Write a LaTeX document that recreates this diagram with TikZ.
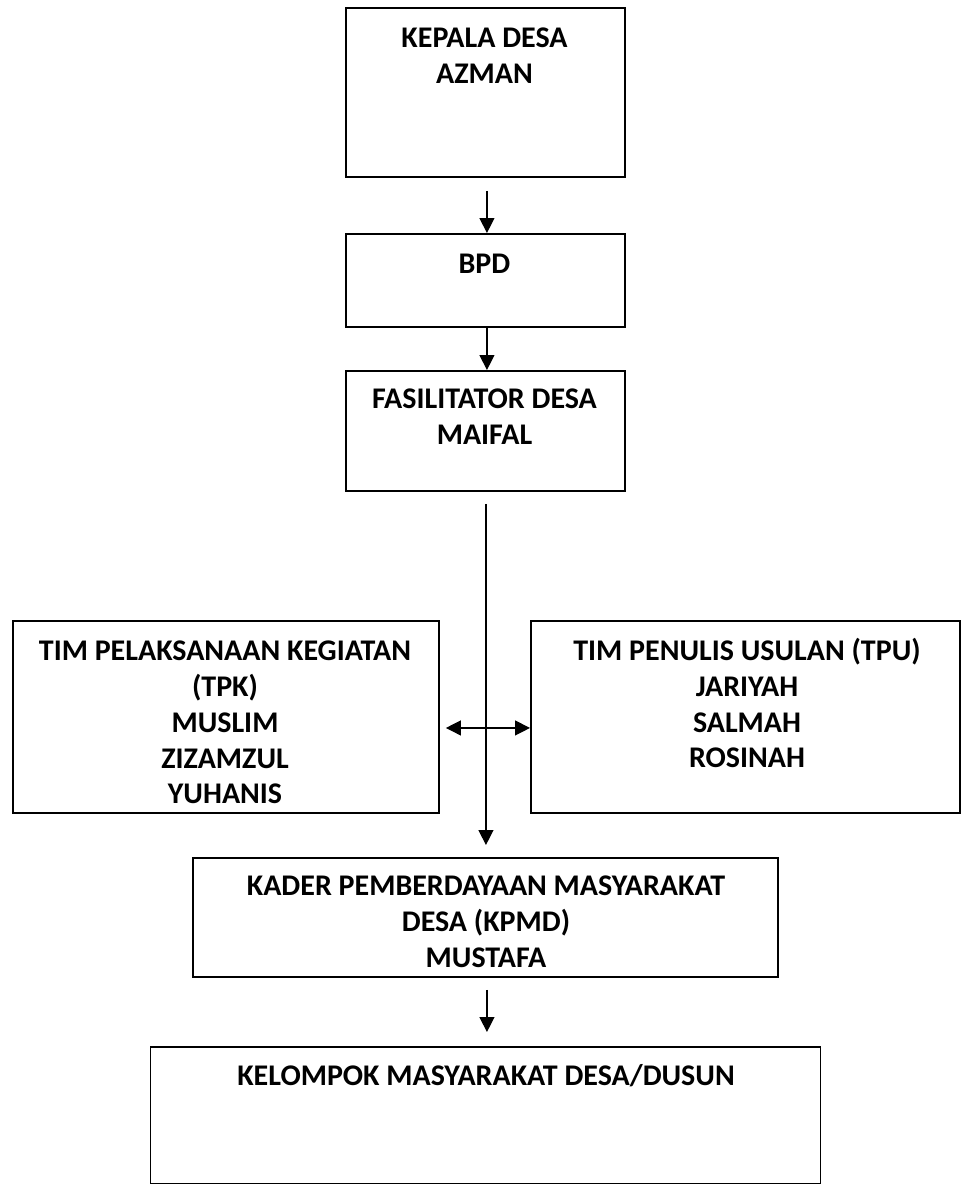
\documentclass[tikz,border=0pt]{standalone}
\usepackage{fontspec}
\setmainfont{Carlito}
\usetikzlibrary{arrows.meta}
\tikzset{
  boxnode/.style={draw=black, line width=1.9pt, inner sep=0pt, anchor=north west},
  txt/.style={font=\fontsize{30}{36}\selectfont\bfseries, inner sep=0pt, anchor=base},
  arr/.style={line width=1.3pt, -{Triangle[length=15pt,width=15pt]}},
  darr/.style={line width=1.3pt, {Triangle[length=15pt,width=15pt]}-{Triangle[length=15pt,width=15pt]}}
}
\begin{document}
\begin{tikzpicture}[x=1pt,y=-1pt]
\useasboundingbox (0,0) rectangle (961,1184);
% boxes
\node[boxnode, minimum width=279pt, minimum height=169pt] (b1) at (345,7) {};
\node[boxnode, minimum width=279pt, minimum height=93pt] (b2) at (345,233) {};
\node[boxnode, minimum width=279pt, minimum height=120pt] (b3) at (345,370) {};
\node[boxnode, minimum width=426pt, minimum height=192pt] (b4) at (12,620) {};
\node[boxnode, minimum width=429pt, minimum height=192pt] (b5) at (530,620) {};
\node[boxnode, minimum width=585pt, minimum height=119pt] (b6) at (192,857) {};
\node[boxnode, minimum width=670pt, minimum height=137pt] (b7) at (149.5,1046) {};
% texts
\node[txt] (t1a) at (484.5,47) {KEPALA DESA};
\node[txt] (t1b) at (484.5,83) {AZMAN};
\node[txt] (t2a) at (484.5,273) {BPD};
\node[txt] (t3a) at (484.5,408) {FASILITATOR DESA};
\node[txt] (t3b) at (484.5,444) {MAIFAL};
\node[txt] (t4a) at (225,660) {TIM PELAKSANAAN KEGIATAN};
\node[txt] (t4b) at (225,696) {(TPK)};
\node[txt] (t4c) at (225,732) {MUSLIM};
\node[txt] (t4d) at (225,768) {ZIZAMZUL};
\node[txt] (t4e) at (225,803) {YUHANIS};
\node[txt] (t5a) at (747,660) {TIM PENULIS USULAN (TPU)};
\node[txt] (t5b) at (747,696) {JARIYAH};
\node[txt] (t5c) at (747,732) {SALMAH};
\node[txt] (t5d) at (747,767) {ROSINAH};
\node[txt] (t6a) at (486,895) {KADER PEMBERDAYAAN MASYARAKAT};
\node[txt] (t6b) at (486,931) {DESA (KPMD)};
\node[txt] (t6c) at (486,967) {MUSTAFA};
\node[txt] (t7a) at (486,1085) {KELOMPOK MASYARAKAT DESA/DUSUN};
% connectors
\draw[arr] ([xshift=1.5pt,yshift=-13pt]b1.south) -- ([xshift=1.5pt]b2.north);
\draw[arr] ([xshift=1.5pt]b2.south) -- ([xshift=1.5pt]b3.north);
\draw[arr] ([xshift=0.5pt,yshift=-12pt]b3.south) -- ([xshift=0.5pt,yshift=12pt]b6.north);
\draw[darr] ([shift={(6pt,-11pt)}]b4.east) -- ([yshift=-11pt]b5.west);
\draw[arr] ([xshift=1.5pt,yshift=-12pt]b6.south) -- ([xshift=1.5pt,yshift=14pt]b7.north);
\end{tikzpicture}
\end{document}
